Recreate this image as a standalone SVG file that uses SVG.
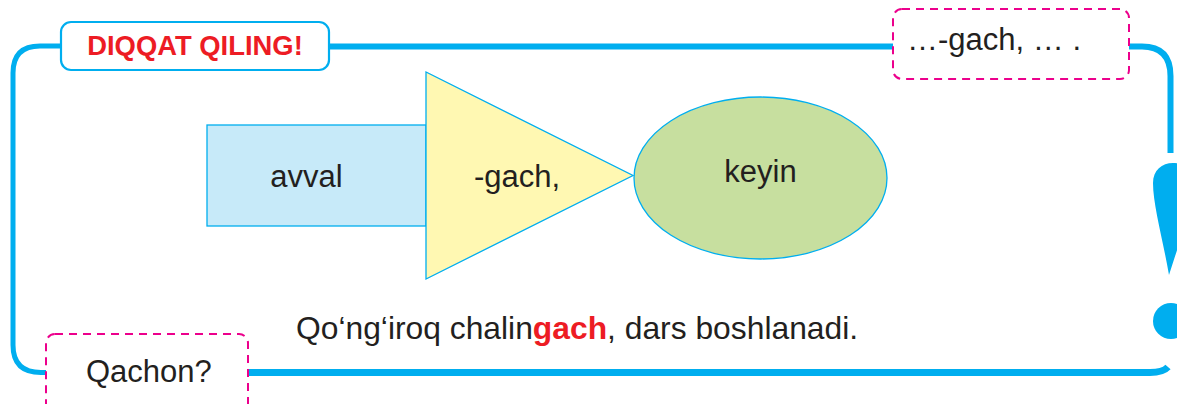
<svg xmlns="http://www.w3.org/2000/svg" width="1177" height="404" viewBox="0 0 1177 404">
<style>
.frame{fill:none;stroke:#00aeef;stroke-linecap:butt;stroke-linejoin:round}
.shape{stroke:#00aeef;stroke-width:1.3}
.t{font-family:"Liberation Sans",Arial,sans-serif;font-size:31px;fill:#231f20}
.dash{fill:#fff;stroke:#ec008c;stroke-width:2;stroke-dasharray:8 6}
.red{fill:#ed1c24;font-weight:bold}
</style>
<rect width="1177" height="404" fill="#fff"/>
<g id="connectors">
<path class="frame" stroke-width="5" d="M62,46 H40 Q13,46 13,73 V345 Q13,372.5 41,372.5 H47"/>
<path class="frame" stroke-width="6" d="M328,46.5 H893"/>
<path class="frame" stroke-width="6" d="M1128,46.5 H1142 Q1170.5,46.5 1170.5,76 V153"/>
<path class="frame" stroke-width="7" d="M246,372.5 H1150 Q1163,372.5 1168,367"/>
</g>
<g id="exclamation">
<path fill="#00aeef" d="M1169,275 C1163,240 1153,205 1153,183 C1153,170 1162,163 1173,163 C1185,163 1193,170 1193,183 C1193,205 1180,240 1169,275 Z"/>
<circle cx="1171" cy="321" r="18" fill="#00aeef"/>
</g>
<g id="diqqat">
<rect x="61" y="22" width="268" height="48" rx="10" fill="#fff" stroke="#00aeef" stroke-width="2.2"/>
<text class="t red" x="195" y="54.5" style="font-size:27.4px" text-anchor="middle">DIQQAT QILING!</text>
</g>
<g id="gach-box">
<rect class="dash" x="893" y="9" width="236" height="70" rx="9"/>
<text class="t" x="907" y="50">…-gach, … .</text>
</g>
<g id="qachon">
<rect class="dash" x="46" y="334" width="202" height="90" rx="9"/>
<text class="t" x="86" y="382">Qachon?</text>
</g>
<g id="avval">
<rect class="shape" x="207" y="125" width="219" height="101" fill="#c7eaf9"/>
<text class="t" x="306.5" y="187" text-anchor="middle">avval</text>
</g>
<g id="gach">
<polygon class="shape" points="426,72 426,279 633,175.5" fill="#fff8b2"/>
<text class="t" x="517" y="187" text-anchor="middle">-gach,</text>
</g>
<g id="keyin">
<ellipse class="shape" cx="760.5" cy="178" rx="126.5" ry="81" fill="#c7df9f"/>
<text class="t" x="760.5" y="182" text-anchor="middle">keyin</text>
</g>
<g id="sentence">
<text class="t" x="296" y="339" style="font-size:31.8px">Qo‘ng‘iroq chalin<tspan class="red">gach</tspan>, dars boshlanadi.</text>
</g>
</svg>
